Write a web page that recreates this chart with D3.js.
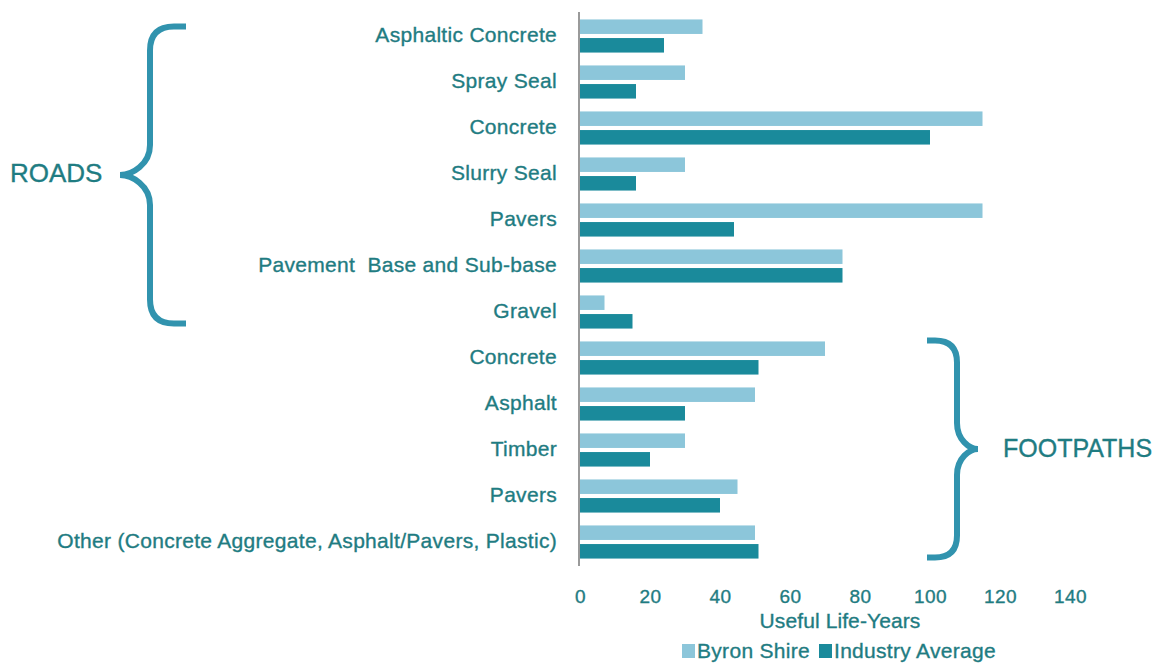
<!DOCTYPE html>
<html><head><meta charset="utf-8">
<script src="https://cdn.jsdelivr.net/npm/d3@7"></script>
<style>body{margin:0;background:#fff}text{font-family:"Liberation Sans",Arial,sans-serif}</style>
</head><body>
<svg id="chart" width="1168" height="663"></svg>
<script>
const categories = ["Asphaltic Concrete","Spray Seal","Concrete","Slurry Seal","Pavers","Pavement  Base and Sub-base","Gravel","Concrete","Asphalt","Timber","Pavers","Other (Concrete Aggregate, Asphalt/Pavers, Plastic)"];
const byronShire = [35,30,115,30,115,75,7,70,50,30,45,50];
const industryAverage = [24,16,100,16,44,75,15,51,30,20,40,51];
const seriesNames = ["Byron Shire","Industry Average"];
const tickValues = [0,20,40,60,80,100,120,140];
const groupNames = ["ROADS","FOOTPATHS"];
const groupFrom = [0,7];
const groupTo = [6,11];
const axisTitle = "Useful Life-Years";

const colors = ["#8cc6da","#1a8a9b"];
const textColor = "#1f7c82";
const braceColor = "#3193ae";

const svg = d3.select("#chart");
const x = d3.scaleLinear().domain([0,140]).range([580,1070]);
const y = d3.scaleBand().domain(d3.range(categories.length)).range([13,565]).paddingInner(0.28).paddingOuter(0.14);
const ys = d3.scaleBand().domain([0,1]).range([0,y.bandwidth()]).paddingInner(0.22).paddingOuter(0);

const rows = categories.map((c,i)=>({i, c, v:[byronShire[i], industryAverage[i]]}));

const g = svg.selectAll("g.cat").data(rows).join("g").attr("class","cat")
  .attr("transform", d=>`translate(0,${y(d.i)})`);
g.selectAll("rect").data(d=>d.v.map((v,k)=>({v,k}))).join("rect")
  .attr("x", x(0)).attr("y", d=>ys(d.k))
  .attr("width", d=>x(d.v)-x(0)).attr("height", ys.bandwidth())
  .attr("fill", d=>colors[d.k]);

function styleText(sel, size, ls){
  sel.attr("font-size",size).attr("letter-spacing",ls).attr("fill",textColor)
     .attr("stroke",textColor).attr("stroke-width",0.35)
     .style("font-family",'"Liberation Sans",Arial,sans-serif');
  return sel;
}

// category labels
styleText(svg.selectAll("text.cat").data(rows).join("text").attr("class","cat")
  .attr("x", 557).attr("y", d=>y(d.i)+y.bandwidth()/2 + 0.5)
  .attr("text-anchor","end").attr("dominant-baseline","middle")
  .style("white-space","pre").text(d=>d.c), 21, 0.3);

// axis line
svg.append("line").attr("x1",x(0)-1).attr("x2",x(0)-1).attr("y1",12).attr("y2",566)
  .attr("stroke","#9a9a9a").attr("stroke-width",2);

// x tick labels
const xAxis = d3.axisBottom(x).tickValues(tickValues).tickSize(0).tickPadding(0);
const ax = svg.append("g").attr("transform","translate(0,589)").call(xAxis);
ax.select(".domain").remove();
styleText(ax.selectAll("text"), 19, 0.4);

styleText(svg.append("text").attr("x",840).attr("y",628).attr("text-anchor","middle").text(axisTitle), 21, 0.1);

// legend
const legX = [682, 819];
seriesNames.forEach((n,k)=>{
  svg.append("rect").attr("x",legX[k]).attr("y",644).attr("width",13).attr("height",14).attr("fill",colors[k]);
  styleText(svg.append("text").attr("x",legX[k]+15).attr("y",658).text(n), 21, 0.3);
});

// braces
function bracePath(xEnd, xSpine, xTip, top, bottom, r, r2){
  const mid = (top+bottom)/2;
  const dir = Math.sign(xEnd - xSpine);
  const p = d3.path();
  p.moveTo(xEnd, top);
  p.lineTo(xSpine + dir*r, top);
  p.quadraticCurveTo(xSpine, top, xSpine, top + r);
  p.lineTo(xSpine, mid - r2);
  p.bezierCurveTo(xSpine, mid - r2*0.35, xTip + (xSpine-xTip)*0.4, mid, xTip, mid);
  p.bezierCurveTo(xTip + (xSpine-xTip)*0.4, mid, xSpine, mid + r2*0.35, xSpine, mid + r2);
  p.lineTo(xSpine, bottom - r);
  p.quadraticCurveTo(xSpine, bottom, xSpine + dir*r, bottom);
  p.lineTo(xEnd, bottom);
  return p.toString();
}
const bTop = [y(groupFrom[0])+7, y(groupFrom[1])-1];
const bBot = [y(groupTo[0])+y.bandwidth()-5, y(groupTo[1])+y.bandwidth()-1];
svg.append("path").attr("d", bracePath(186,150,120,bTop[0],bBot[0],24,30))
  .attr("fill","none").attr("stroke",braceColor).attr("stroke-width",6);
svg.append("path").attr("d", bracePath(927,957,978,bTop[1],bBot[1],22,26))
  .attr("fill","none").attr("stroke",braceColor).attr("stroke-width",6);
styleText(svg.append("text").attr("x",10).attr("y",(bTop[0]+bBot[0])/2).attr("dominant-baseline","middle")
  .text(groupNames[0]), 26, 0);
styleText(svg.append("text").attr("x",1003).attr("y",(bTop[1]+bBot[1])/2+1).attr("dominant-baseline","middle")
  .text(groupNames[1]), 25, 0);
</script>
</body></html>
